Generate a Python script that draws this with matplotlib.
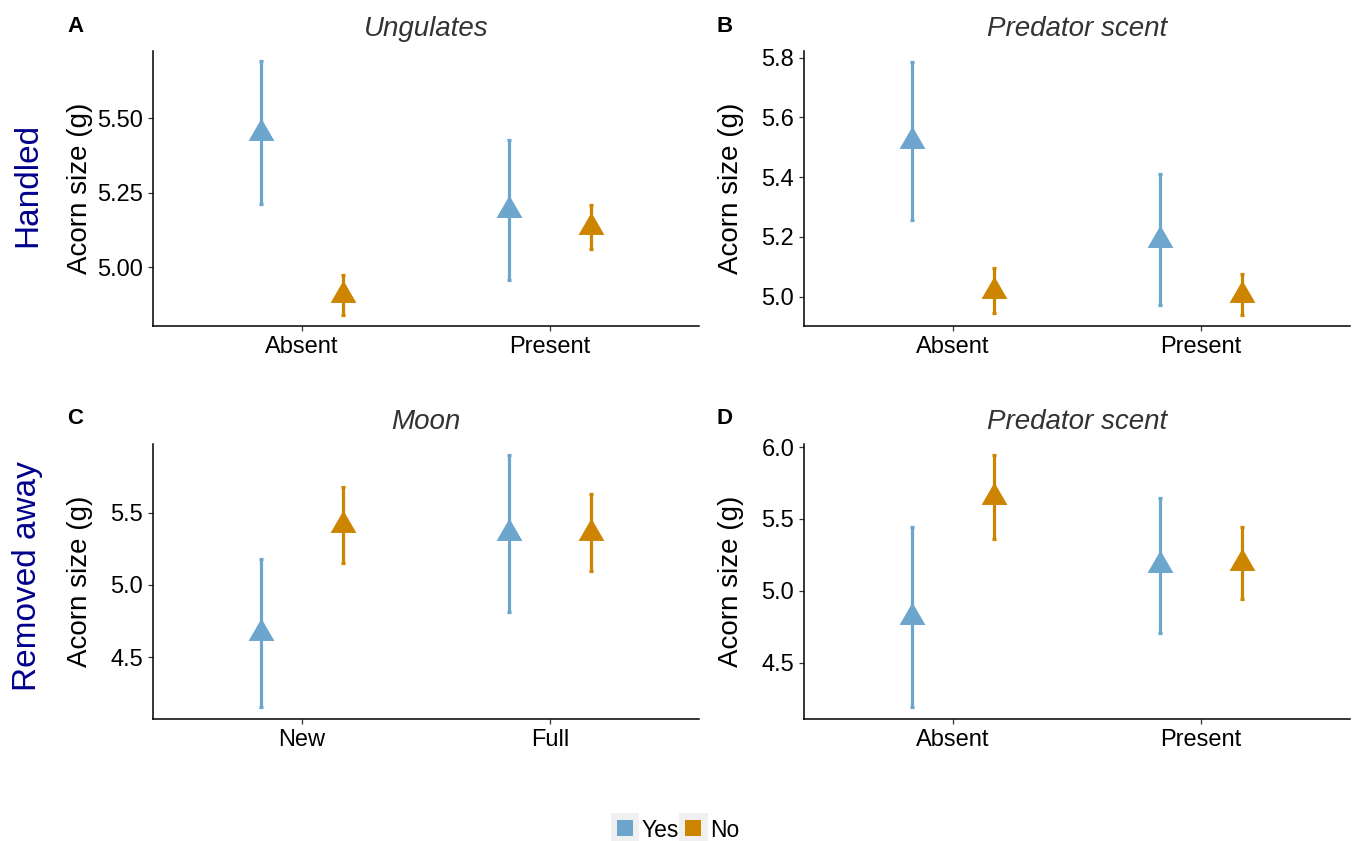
import numpy as np
import matplotlib
matplotlib.use("Agg")
import matplotlib.pyplot as plt
from matplotlib.patches import Rectangle, Patch
from matplotlib.legend_handler import HandlerBase

plt.rcParams['font.family'] = ['Liberation Sans', 'DejaVu Sans']

# ---- data ----
letters = ["A", "B", "C", "D"]
titles = ["Ungulates", "Predator scent", "Moon", "Predator scent"]
levels = [["Absent", "Present"], ["Absent", "Present"], ["New", "Full"], ["Absent", "Present"]]
row_labels = ["Handled", "Removed away"]

yes_mean = [[5.45, 5.19], [5.52, 5.19], [4.665, 5.357], [4.817, 5.178]]
yes_lo = [[5.213, 4.956], [5.256, 4.972], [4.153, 4.815], [4.188, 4.708]]
yes_hi = [[5.690, 5.427], [5.784, 5.409], [5.178, 5.900], [5.446, 5.648]]

no_mean = [[4.905, 5.135], [5.02, 5.007], [5.415, 5.363], [5.65, 5.19]]
no_lo = [[4.838, 5.060], [4.946, 4.939], [5.150, 5.097], [5.358, 4.942]]
no_hi = [[4.973, 5.209], [5.097, 5.075], [5.681, 5.630], [5.945, 5.441]]

yticks = [[5.00, 5.25, 5.50], [5.0, 5.2, 5.4, 5.6, 5.8], [4.5, 5.0, 5.5], [4.5, 5.0, 5.5, 6.0]]
ytick_fmt = ["{:.2f}", "{:.1f}", "{:.1f}", "{:.1f}"]
ylims = [(4.802, 5.725), (4.902, 5.822), (4.072, 5.976), (4.107, 6.022)]

yes_col = "#6CA6CD"
no_col = "#CD8500"

W, H = 1354, 841
fig = plt.figure(figsize=(W / 100, H / 100), dpi=100)

# axes boxes in pixels: left, top
boxes = [(153, 51), (804, 51), (153, 444), (804, 444)]
letter_x = [75, 725, 75, 725]
aw, ah = 546, 275

tri = [(0, 1), (-0.866, -0.5), (0.866, -0.5)]
dodge = 0.165

for i in range(4):
    l, t = boxes[i]
    ax = fig.add_axes([l / W, 1 - (t + ah) / H, aw / W, ah / H])
    x = np.arange(1, 3)
    for means, lo, hi, col, off in [(yes_mean[i], yes_lo[i], yes_hi[i], yes_col, -dodge),
                                    (no_mean[i], no_lo[i], no_hi[i], no_col, dodge)]:
        m = np.array(means)
        err = [m - np.array(lo), np.array(hi) - m]
        ax.errorbar(x + off, m, yerr=err, fmt='none', ecolor=col, elinewidth=2.3,
                    capsize=1.3, capthick=2.3)
        ax.plot(x + off, m, ls='none', marker=tri, ms=21.5, color=col, mew=0)
    ax.set_xlim(0.4, 2.6)
    ax.set_ylim(*ylims[i])
    ax.set_xticks(x)
    ax.set_xticklabels(levels[i])
    ax.set_yticks(yticks[i])
    ax.set_yticklabels([ytick_fmt[i].format(v) for v in yticks[i]])
    for s in ["top", "right"]:
        ax.spines[s].set_visible(False)
    for s in ["left", "bottom"]:
        ax.spines[s].set_linewidth(1.1)
        ax.spines[s].set_color("black")
    ax.tick_params(axis='both', labelsize=17, length=3.5, width=0.9, color="#333333",
                   labelcolor="black", pad=3.5)
    ax.set_ylabel("Acorn size (g)", fontsize=20, color="black")
    ax.yaxis.label.set_va("center")
    ax.yaxis.set_label_coords(-73 / aw, 0.5)

    # panel title and letter
    fig.text((l + aw / 2) / W, 1 - (t - 15) / H, titles[i], ha='center', va='baseline',
             fontsize=20, style='italic', color="#333333")
    fig.text(letter_x[i] / W, 1 - (t - 25) / H, letters[i], ha='center', va='center',
             fontsize=16, fontweight='bold', color="black")

# row labels
fig.text(28 / W, 1 - 185 / H, row_labels[0], rotation=90, ha='center', va='center',
         fontsize=24, color="#00008B")
fig.text(28 / W, 1 - 576 / H, row_labels[1], rotation=90, ha='center', va='center',
         fontsize=24, color="#00008B")


# legend keys: coloured square on a light grey key box
class KeyHandler(HandlerBase):
    def create_artists(self, legend, orig_handle, xdescent, ydescent, width, height,
                       fontsize, trans):
        y0 = -ydescent - 0.15 * height
        bg = Rectangle((-xdescent, y0), width, width,
                       facecolor="#F0F0F0", edgecolor='none', transform=trans)
        s = width * 0.56
        sq = Rectangle((-xdescent + (width - s) / 2, y0 + (width - s) / 2),
                       s, s, facecolor=orig_handle.get_facecolor(), edgecolor='none',
                       transform=trans)
        return [bg, sq]


handles = [Patch(facecolor=yes_col), Patch(facecolor=no_col)]
fig.legend(handles, ["Yes", "No"], ncol=2, loc='center', bbox_to_anchor=(675 / W, 1 - 830 / H),
           frameon=False, fontsize=16.5, handlelength=1.25, handleheight=1.0,
           handletextpad=0.1, columnspacing=0.0, borderpad=0,
           handler_map={Patch: KeyHandler()})

fig.savefig("out.png", dpi=100, facecolor="white")
